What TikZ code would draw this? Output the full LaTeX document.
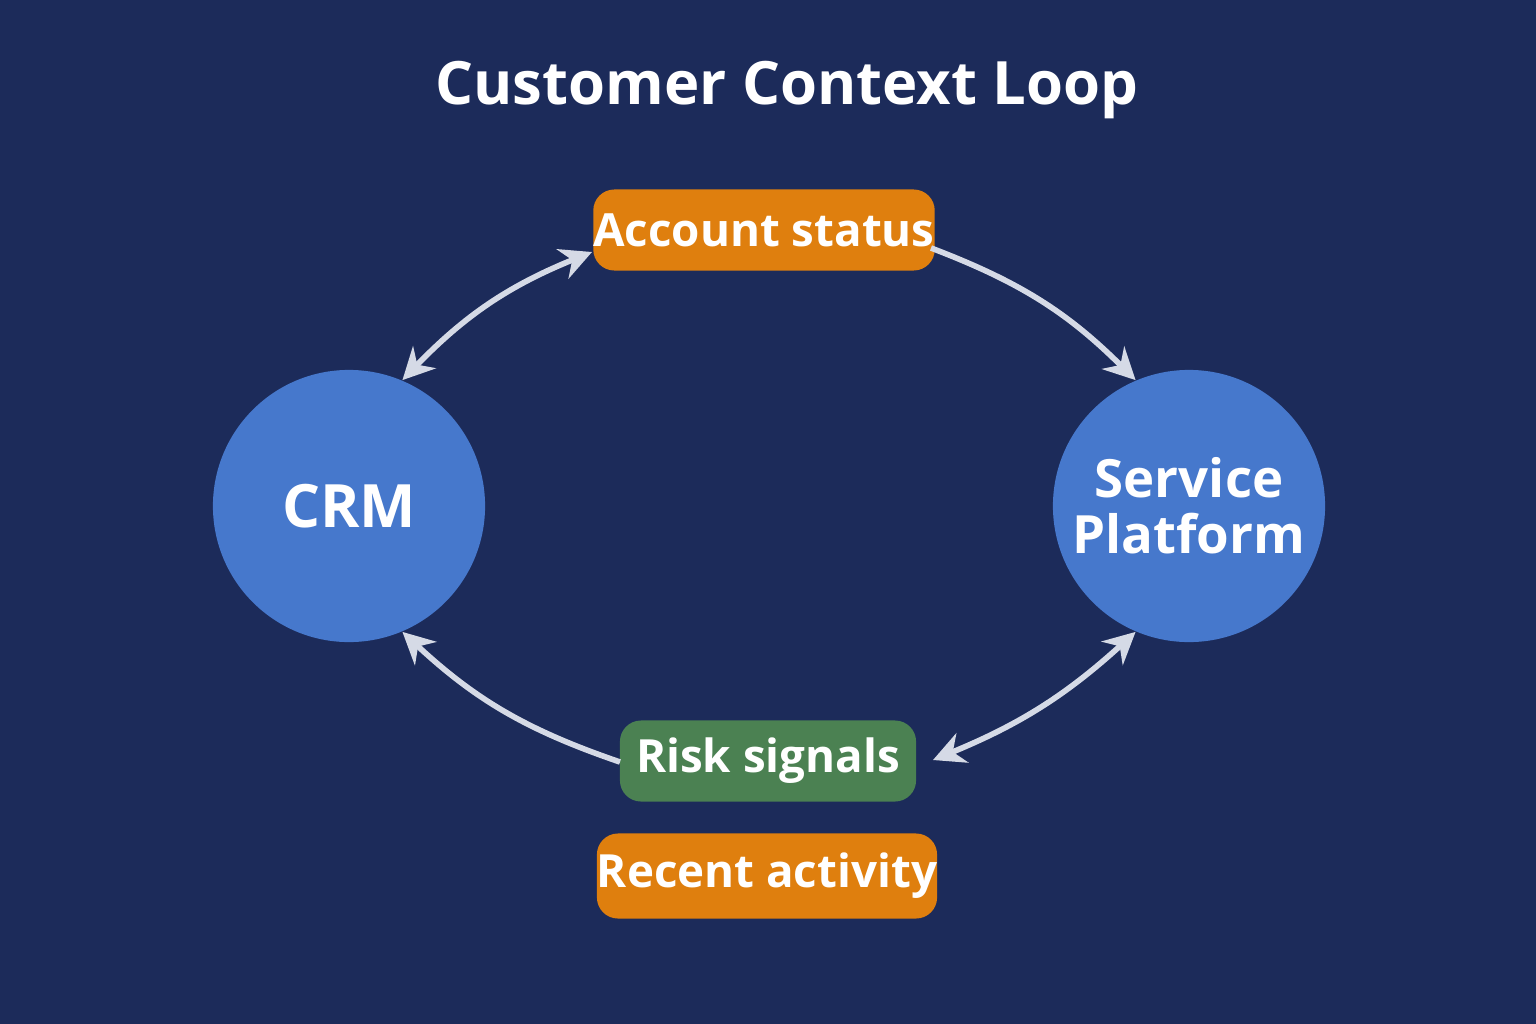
\documentclass[tikz,border=0pt]{standalone}
\usepackage{fontspec}
\setmainfont{Open Sans}
\usetikzlibrary{arrows.meta}
\definecolor{bg}{HTML}{1C2B5A}
\definecolor{circ}{HTML}{4678CC}
\definecolor{org}{HTML}{DF7F0E}
\definecolor{grn}{HTML}{4B8152}
\definecolor{arr}{HTML}{D5DAE6}
\begin{document}
\begin{tikzpicture}[x=0.01cm,y=-0.01cm,
  circ/.style={circle,fill=circ,minimum size=2.72cm,text=white,font=\bfseries,align=center,inner sep=0},
  tag/.style={rounded corners=6pt,text=white,font=\fontsize{13}{15}\selectfont\bfseries,inner sep=0},
  conn/.style={draw=arr,line width=1.6pt,-{Stealth[length=9pt,width=9pt]}},
  dconn/.style={draw=arr,line width=1.6pt,{Stealth[length=9pt,width=9pt]}-{Stealth[length=9pt,width=9pt]}}]
\fill[bg] (0,0) rectangle (1536,1024);
\node[font=\fontsize{17}{20}\selectfont\bfseries,text=white] (title) at (787,90) {Customer Context Loop};
\node[circ,font=\fontsize{17}{20}\selectfont\bfseries] (crm) at (349,506) {CRM};
\node[circ,font=\fontsize{15}{17}\selectfont\bfseries] (sp) at (1189,506) {Service\\[-1pt]Platform};
\node[tag,fill=org,minimum width=3.33cm,minimum height=0.81cm] (acc) at (764,230) {Account status};
\node[tag,fill=grn,minimum width=2.96cm,minimum height=0.81cm] (risk) at (768,761) {Risk signals};
\node[tag,fill=org,minimum width=3.38cm,minimum height=0.85cm] (rec) at (767,876) {Recent activity};
\coordinate (a1) at (592,252);
\coordinate (a2) at (931,248);
\coordinate (r1) at (933,760);
\coordinate (r2) at (620,762);
\draw[dconn] (crm.67) to[bend left=12] (a1);
\draw[conn] (a2) to[bend left=12] (sp.113);
\draw[dconn] (sp.247) to[bend left=10] (r1);
\draw[conn] (r2) to[bend left=12] (crm.293);
\end{tikzpicture}
\end{document}
